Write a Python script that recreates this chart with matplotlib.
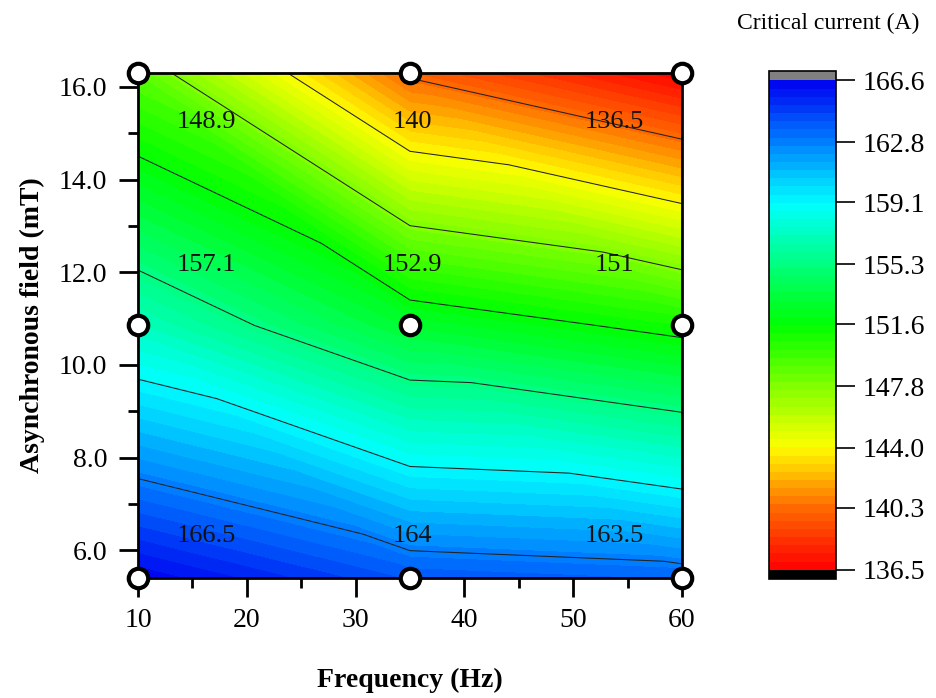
import numpy as np
import matplotlib
matplotlib.use("Agg")
import matplotlib.pyplot as plt
import matplotlib.tri as mtri
from matplotlib.colors import LinearSegmentedColormap
from matplotlib.ticker import MultipleLocator

# measured grid: frequency (Hz) x asynchronous field (mT)
freq = [10, 35, 60]
field = [5.4, 10.85, 16.3]
# critical current (A), rows = field, cols = frequency
current = np.array([
    [166.5, 164.0, 163.5],
    [157.1, 152.9, 151.0],
    [148.9, 140.0, 136.5],
])
cbar_ticks = [136.5, 140.3, 144.0, 147.8, 151.6, 155.3, 159.1, 162.8, 166.6]

plt.rcParams['font.family'] = ['Liberation Serif', 'DejaVu Serif']

# linear interpolation on a triangulation of the 3x3 grid
FX, FY = np.meshgrid(freq, field)
nx = len(freq)
tris = []
for i in range(len(field) - 1):
    for j in range(nx - 1):
        bl = i * nx + j
        br, tl, tr = bl + 1, bl + nx, bl + nx + 1
        tris.append([tl, bl, br])
        tris.append([tl, br, tr])
tri = mtri.Triangulation(FX.ravel(), FY.ravel(), tris)
Zc = current.ravel()

cmap = LinearSegmentedColormap.from_list('ic', [
    (0.0, '#ff0000'), (0.125, '#ff6a00'), (0.25, '#ffff00'), (0.5, '#00ff00'),
    (0.75, '#00ffff'), (0.875, '#0080ff'), (1.0, '#0000f0')])
cmap.set_over('#808080')
cmap.set_under('black')

fig = plt.figure(figsize=(9.36, 6.98), dpi=100)
ax = fig.add_axes([0.1474, 0.172, 0.5812, 0.7234])
cax = fig.add_axes([0.8216, 0.1705, 0.0716, 0.7275])

levels = np.linspace(cbar_ticks[0], cbar_ticks[-1], 61)
cf = ax.tricontourf(tri, Zc, levels=levels, cmap=cmap, extend='both')
ax.tricontour(tri, Zc, levels=cbar_ticks[1:-1], colors='#222222', linewidths=0.75)

# data points
ax.plot(FX.ravel(), FY.ravel(), 'o', ms=14, mfc='white', mec='black', mew=3,
        clip_on=False, zorder=5)

# value labels next to each point
dx = [6.3, 0.2, -6.2]
dy = [0.9, 1.3, -1.05]
for i in range(len(field)):
    for j in range(len(freq)):
        ax.text(freq[j] + dx[j], field[i] + dy[i], f"{current[i, j]:g}",
                ha='center', va='center', fontsize=19, color='#111111')

ax.set_xlim(freq[0], freq[-1])
ax.set_ylim(field[0], field[-1])
ax.set_xticks([10, 20, 30, 40, 50, 60])
ax.set_yticks([6, 8, 10, 12, 14, 16])
ax.set_yticklabels([f"{v:.1f}" for v in [6, 8, 10, 12, 14, 16]])
ax.xaxis.set_minor_locator(MultipleLocator(5))
ax.yaxis.set_minor_locator(MultipleLocator(1))
ax.tick_params(which='major', direction='out', length=14, width=2, labelsize=20, pad=8)
ax.tick_params(which='minor', direction='out', length=7, width=2)
for s in ax.spines.values():
    s.set_linewidth(2)
ax.set_xlabel('Frequency (Hz)', fontsize=20, fontweight='bold', labelpad=25)
ax.set_ylabel('Asynchronous field (mT)', fontsize=20, fontweight='bold', labelpad=10)

cb = fig.colorbar(cf, cax=cax, ticks=cbar_ticks, extendfrac=0.019, extendrect=True)
cb.ax.set_yticklabels([f"{v:.1f}" for v in cbar_ticks])
cb.ax.tick_params(length=14, width=1.2, labelsize=20, pad=5)
cb.outline.set_linewidth(1.2)
fig.text(0.885, 0.966, 'Critical current (A)', fontsize=17, ha='center', va='center')

fig.savefig('out.png', dpi=100)
